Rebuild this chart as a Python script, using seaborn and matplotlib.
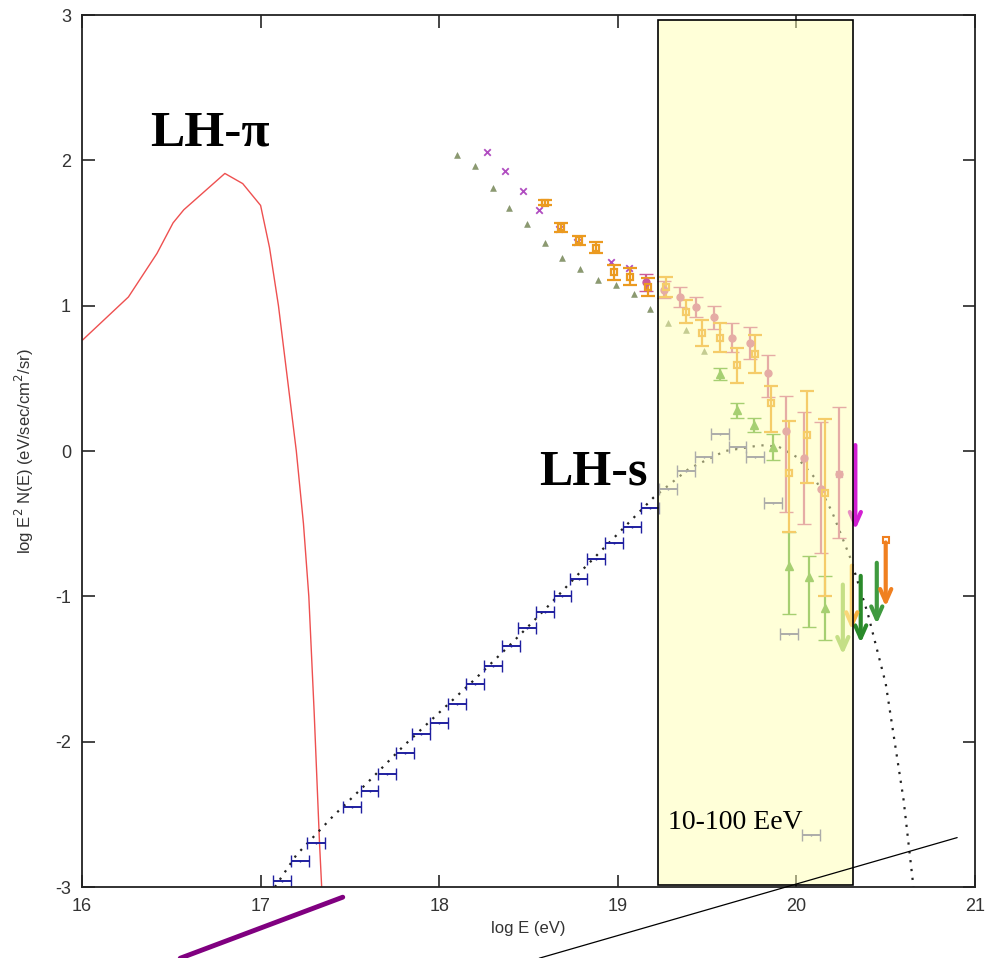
import numpy as np
import pandas as pd
import seaborn as sns
import matplotlib.pyplot as plt
from matplotlib.patches import Rectangle

# LH-pi model curve (red)
pi_x = [16.0, 16.26, 16.42, 16.51, 16.57, 16.80, 16.90, 17.0, 17.05, 17.10, 17.15, 17.20, 17.24, 17.27, 17.30, 17.33, 17.35]
pi_y = [0.76, 1.06, 1.36, 1.57, 1.66, 1.91, 1.84, 1.69, 1.40, 1.00, 0.50, 0.00, -0.50, -1.00, -1.80, -2.70, -3.20]

# LH-s model curve (dotted black)
s_x = [17.08, 17.2, 17.4, 17.6, 17.8, 18.0, 18.2, 18.4, 18.6, 18.8, 19.0, 19.2, 19.4,
       19.6, 19.8, 19.9, 20.0, 20.1, 20.2, 20.3, 20.4, 20.5, 20.6, 20.66]
s_y = [-3.0, -2.78, -2.52, -2.28, -2.03, -1.80, -1.57, -1.33, -1.08, -0.82, -0.57, -0.32, -0.12,
       0.00, 0.04, 0.03, -0.04, -0.18, -0.42, -0.73, -1.12, -1.60, -2.40, -3.05]

# simulated LH-s spectrum points (dark blue, horizontal bars)
blue_x = [17.12, 17.22, 17.31, 17.51, 17.61, 17.71, 17.81, 17.90, 18.00, 18.10, 18.20,
          18.30, 18.40, 18.49, 18.59, 18.69, 18.78, 18.88, 18.98, 19.08, 19.18]
blue_y = [-2.96, -2.82, -2.70, -2.45, -2.34, -2.22, -2.08, -1.95, -1.87, -1.74, -1.60,
          -1.48, -1.34, -1.22, -1.11, -1.00, -0.88, -0.74, -0.63, -0.52, -0.39]
slate_x = [19.28, 19.38, 19.48, 19.57, 19.67, 19.77, 19.87, 19.96, 20.08]
slate_y = [-0.26, -0.14, -0.04, 0.12, 0.03, -0.04, -0.36, -1.26, -2.64]

# measured spectra
tri_x = [18.10, 18.20, 18.30, 18.39, 18.49, 18.59, 18.69, 18.79, 18.89, 18.99, 19.09, 19.18, 19.28, 19.38, 19.48]
tri_y = [2.04, 1.96, 1.81, 1.67, 1.56, 1.43, 1.33, 1.25, 1.18, 1.14, 1.08, 0.98, 0.88, 0.83, 0.69]

green_x = [19.57, 19.67, 19.76, 19.87, 19.96, 20.07, 20.16]
green_y = [0.53, 0.28, 0.18, 0.03, -0.79, -0.87, -1.08]
green_lo = [0.04, 0.05, 0.05, 0.09, 0.33, 0.34, 0.22]
green_hi = [0.04, 0.05, 0.05, 0.09, 0.23, 0.15, 0.22]

cross_x = [18.27, 18.37, 18.47, 18.56, 18.67, 18.77, 18.96, 19.06, 20.24]
cross_y = [2.06, 1.93, 1.79, 1.66, 1.53, 1.44, 1.30, 1.26, -0.16]

pink_x = [19.16, 19.26, 19.35, 19.44, 19.54, 19.64, 19.74, 19.84, 19.94, 20.04, 20.14, 20.24]
pink_y = [1.16, 1.11, 1.06, 0.99, 0.92, 0.78, 0.74, 0.54, 0.14, -0.05, -0.26, -0.16]
pink_lo = [0.06, 0.06, 0.07, 0.07, 0.08, 0.10, 0.11, 0.17, 0.56, 0.45, 0.44, 0.44]
pink_hi = [0.06, 0.06, 0.07, 0.07, 0.08, 0.10, 0.11, 0.12, 0.24, 0.32, 0.46, 0.46]

orange_x = [18.59, 18.68, 18.78, 18.88, 18.98, 19.07, 19.17, 19.27, 19.38, 19.47, 19.57, 19.67, 19.77, 19.86, 19.96, 20.06, 20.16]
orange_y = [1.71, 1.54, 1.45, 1.40, 1.23, 1.20, 1.13, 1.13, 0.96, 0.81, 0.78, 0.59, 0.67, 0.33, -0.15, 0.11, -0.29]
orange_lo = [0.02, 0.03, 0.03, 0.04, 0.05, 0.06, 0.06, 0.07, 0.08, 0.09, 0.10, 0.12, 0.13, 0.20, 0.41, 0.33, 0.71]
orange_hi = [0.02, 0.03, 0.03, 0.04, 0.05, 0.06, 0.06, 0.07, 0.08, 0.09, 0.10, 0.12, 0.13, 0.12, 0.36, 0.30, 0.51]

# upper limits: x, top, bottom, colour
lim_x = [20.33, 20.26, 20.36, 20.45, 20.31, 20.50]
lim_top = [0.06, -0.90, -0.84, -0.75, -0.77, -0.61]
lim_bot = [-0.56, -1.42, -1.34, -1.21, -1.25, -1.09]
lim_col = ['#d21fd2', '#8cc05a', '#2a8a2a', '#3f9a3f', '#f5b040', '#f08020']

sns.set_style('ticks')
plt.rcParams['font.family'] = ['Liberation Sans', 'DejaVu Sans']
plt.rcParams['axes.unicode_minus'] = False

fig = plt.figure(figsize=(10.06, 9.58), dpi=100)
ax = fig.add_axes([0.0815, 0.0741, 0.8877, 0.9102])

sns.lineplot(x=pi_x, y=pi_y, ax=ax, color='#ee5050', lw=1.0, sort=False, estimator=None)
sns.lineplot(x=s_x, y=s_y, ax=ax, color='#222222', lw=1.6, sort=False, estimator=None,
             linestyle=(0, (1, 3)))

ax.errorbar(blue_x, blue_y, xerr=0.05, fmt='none', ecolor='#1f1fa0', elinewidth=1.4, capsize=4)
ax.errorbar(slate_x, slate_y, xerr=0.05, fmt='none', ecolor='#5a5aa0', elinewidth=1.4, capsize=4)
sns.scatterplot(x=blue_x + slate_x, y=blue_y + slate_y, ax=ax, color='#2a2a90', s=6, marker='.',
                edgecolor=None)

sns.scatterplot(x=tri_x, y=tri_y, ax=ax, marker='^', color='#8c9a70', s=18, edgecolor='#7a8a60')
ax.errorbar(green_x, green_y, yerr=[green_lo, green_hi], fmt='^', color='#4ea030', ms=6,
            elinewidth=1.6, capsize=5)
sns.scatterplot(x=cross_x, y=cross_y, ax=ax, marker='x', color='#b04cc0', s=22, linewidth=1.3)
ax.errorbar(pink_x, pink_y, yerr=[pink_lo, pink_hi], fmt='o', color='#cc5a98', ms=5,
            elinewidth=1.6, capsize=5)
ax.errorbar(orange_x, orange_y, yerr=[orange_lo, orange_hi], fmt='s', color='#eb9a20',
            mfc='none', mew=1.6, ms=5, elinewidth=1.6, capsize=5)

for x, t, b, c in zip(lim_x, lim_top, lim_bot, lim_col):
    ax.annotate('', xy=(x, b), xytext=(x, t),
                arrowprops=dict(arrowstyle='->,head_length=0.9,head_width=0.4', color=c, lw=3))
ax.plot(lim_x[-1], lim_top[-1], 's', mfc='none', mec=lim_col[-1], ms=5, mew=1.5)

# energy window
ax.add_patch(Rectangle((19.225, -2.986), 1.092, 5.952, facecolor=(1.0, 1.0, 0.7, 0.5),
                       edgecolor='black', lw=1.2, zorder=5))
ax.text(19.28, -2.60, '10-100 EeV', family=['Liberation Serif', 'DejaVu Serif'],
        fontsize=20, color='black', zorder=6)

ax.text(16.38, 2.1, 'LH-π', family=['Liberation Serif', 'DejaVu Serif'], fontsize=37,
        fontweight='bold', color='black')
ax.text(18.56, -0.23, 'LH-s', family=['Liberation Serif', 'DejaVu Serif'], fontsize=36,
        fontweight='bold', color='black', zorder=6)

# lines running off the bottom of the frame
ax.plot([16.55, 17.46], [-3.49, -3.07], color='#800080', lw=3.5, clip_on=False, zorder=7)
ax.plot([18.56, 20.90], [-3.49, -2.66], color='black', lw=0.9, clip_on=False, zorder=7)

ax.set_xlim(16, 21)
ax.set_ylim(-3, 3)
ax.set_xticks([16, 17, 18, 19, 20, 21])
ax.set_yticks([-3, -2, -1, 0, 1, 2, 3])
ax.tick_params(direction='in', length=9, width=1.2, top=True, right=True,
               labelsize=13, labelcolor='#333333', pad=8)
for sp in ax.spines.values():
    sp.set_linewidth(1.3)
    sp.set_color('#222222')
ax.set_xlabel('log E (eV)', fontsize=12, color='#333333', labelpad=4)
ax.set_ylabel('log E$^2$ N(E) (eV/sec/cm$^2$/sr)', fontsize=12, color='#333333', labelpad=14)

plt.savefig('out.png', dpi=100)
